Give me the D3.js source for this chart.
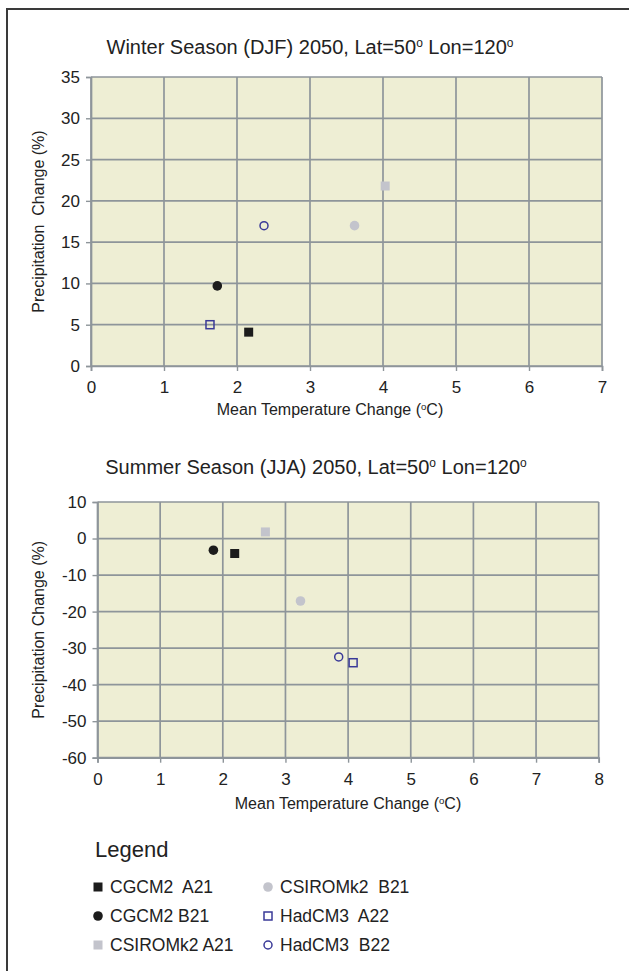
<!DOCTYPE html>
<html>
<head>
<meta charset="utf-8">
<script src="https://cdn.jsdelivr.net/npm/d3@7"></script>
<style>
  html, body { margin: 0; padding: 0; background: #fff; }
  svg { display: block; }
  text { font-family: "Liberation Sans", Arial, Helvetica, sans-serif; fill: #222; white-space: pre; }
</style>
</head>
<body>
<svg id="chart" width="629" height="971"></svg>
<script>
// Climate scenario results for the grid cell Lat=50°, Lon=120°, year 2050
const models = ["CGCM2  A21", "CGCM2 B21", "CSIROMk2 A21", "CSIROMk2  B21", "HadCM3  A22", "HadCM3  B22"];
const markerShapes = ["square", "circle", "square", "circle", "square", "circle"];
const markerFill = ["#1c1c1c", "#1c1c1c", "#c3c4cc", "#c3c4cc", "none", "none"];
const markerStroke = ["none", "none", "none", "none", "#3a3a98", "#3a3a98"];

// Winter (DJF)
const winterTemp = [2.16, 1.73, 4.03, 3.61, 1.63, 2.37];
const winterPrecip = [4.1, 9.7, 21.8, 17.0, 5.0, 17.0];
const winterXTicks = [0, 1, 2, 3, 4, 5, 6, 7];
const winterYTicks = [0, 5, 10, 15, 20, 25, 30, 35];

// Summer (JJA)
const summerTemp = [2.19, 1.85, 2.68, 3.24, 4.08, 3.85];
const summerPrecip = [-4.1, -3.2, 1.8, -17.1, -34.0, -32.4];
const summerXTicks = [0, 1, 2, 3, 4, 5, 6, 7, 8];
const summerYTicks = [-60, -50, -40, -30, -20, -10, 0, 10];

const svg = d3.select("#chart");
const gridColor = "#8e959a";

// Outer frame (left and top edges)
svg.append("path")
  .attr("d", "M7,971 V9 H629")
  .attr("fill", "none")
  .attr("stroke", "#3a3a3a")
  .attr("stroke-width", 2);

function titleText(sel, x, y, parts, size) {
  const t = sel.append("text").attr("x", x).attr("y", y)
    .attr("text-anchor", "middle").style("font-size", size + "px");
  parts.forEach(p => {
    const ts = t.append("tspan").text(p.t);
    if (p.sup) ts.attr("baseline-shift", "super").style("font-size", (size * 0.6) + "px");
  });
  return t;
}

function drawPanel(cfg) {
  const x = d3.scaleLinear().domain(d3.extent(cfg.xTicks)).range([cfg.left, cfg.right]);
  const y = d3.scaleLinear().domain(d3.extent(cfg.yTicks)).range([cfg.bottom, cfg.top]);
  const g = svg.append("g");

  g.append("rect")
    .attr("x", cfg.left).attr("y", cfg.top)
    .attr("width", cfg.right - cfg.left).attr("height", cfg.bottom - cfg.top)
    .attr("fill", "#eeeed4");

  // Grid lines
  g.selectAll(".vg").data(cfg.xTicks).join("line")
    .attr("x1", d => x(d)).attr("x2", d => x(d))
    .attr("y1", cfg.top).attr("y2", cfg.bottom)
    .attr("stroke", gridColor).attr("stroke-width", 1.7);
  g.selectAll(".hg").data(cfg.yTicks).join("line")
    .attr("y1", d => y(d)).attr("y2", d => y(d))
    .attr("x1", cfg.left).attr("x2", cfg.right)
    .attr("stroke", gridColor).attr("stroke-width", 1.7);

  // Axes with outward ticks
  const xAxis = g.append("g").attr("transform", `translate(0,${cfg.bottom})`)
    .call(d3.axisBottom(x).tickValues(cfg.xTicks).tickSize(5).tickPadding(10).tickFormat(d => String(d)));
  const yAxis = g.append("g").attr("transform", `translate(${cfg.left},0)`)
    .call(d3.axisLeft(y).tickValues(cfg.yTicks).tickSize(5).tickPadding(6).tickFormat(d => String(d)));
  [xAxis, yAxis].forEach(a => {
    a.attr("font-size", null).attr("font-family", null);
    a.select(".domain").attr("stroke", gridColor).attr("stroke-width", 1.7);
    a.selectAll(".tick line").attr("stroke", gridColor).attr("stroke-width", 1.4);
    a.selectAll(".tick text").style("font-size", "17px").attr("fill", "#222");
  });

  // Data markers
  const pts = models.map((m, i) => ({ i, tx: cfg.temp[i], p: cfg.precip[i] }));
  g.selectAll(".pt").data(pts).join(d => d.append(i => {
      const shape = markerShapes[i.i];
      return document.createElementNS("http://www.w3.org/2000/svg", shape === "square" ? "rect" : "circle");
    }))
    .each(function (d) {
      const el = d3.select(this);
      const open = markerFill[d.i] === "none";
      if (markerShapes[d.i] === "square") {
        const s = open ? 8 : 9;
        el.attr("x", x(d.tx) - s / 2).attr("y", y(d.p) - s / 2).attr("width", s).attr("height", s);
      } else {
        el.attr("cx", x(d.tx)).attr("cy", y(d.p)).attr("r", open ? 4 : 4.8);
      }
      el.attr("fill", markerFill[d.i]).attr("stroke", markerStroke[d.i]).attr("stroke-width", open ? 1.5 : 0);
    });

  // Titles
  titleText(svg, cfg.titleX, cfg.titleY, cfg.title, 20);
  titleText(svg, cfg.xLabelX, cfg.xLabelY,
    [{ t: "Mean Temperature Change (" }, { t: "o", sup: true }, { t: "C)" }], 16);
  svg.append("text")
    .attr("transform", `translate(${cfg.yLabelX},${(cfg.top + cfg.bottom) / 2}) rotate(-90)`)
    .attr("text-anchor", "middle").style("font-size", "16px")
    .text(cfg.yLabel);
}

drawPanel({
  temp: winterTemp, precip: winterPrecip, xTicks: winterXTicks, yTicks: winterYTicks,
  left: 91, right: 602, top: 77, bottom: 366,
  title: [{ t: "Winter Season (DJF) 2050, Lat=50" }, { t: "o", sup: true }, { t: " Lon=120" }, { t: "o", sup: true }],
  titleX: 310, titleY: 54,
  xLabelX: 330, xLabelY: 415,
  yLabel: "Precipitation  Change (%)", yLabelX: 44
});

drawPanel({
  temp: summerTemp, precip: summerPrecip, xTicks: summerXTicks, yTicks: summerYTicks,
  left: 97.5, right: 598.7, top: 502, bottom: 757.7,
  title: [{ t: "Summer Season (JJA) 2050, Lat=50" }, { t: "o", sup: true }, { t: " Lon=120" }, { t: "o", sup: true }],
  titleX: 316, titleY: 474,
  xLabelX: 348, xLabelY: 809,
  yLabel: "Precipitation Change (%)", yLabelX: 44
});

// Legend
svg.append("text").attr("x", 95).attr("y", 857).style("font-size", "22px").text("Legend");
const legendPos = [[0, 0], [0, 1], [0, 2], [1, 0], [1, 1], [1, 2]];
const colX = [98, 268], rowY = [887, 916, 945];
models.forEach((m, i) => {
  const cx = colX[legendPos[i][0]], cy = rowY[legendPos[i][1]];
  const open = markerFill[i] === "none";
  if (markerShapes[i] === "square") {
    const s = open ? 8 : 9;
    svg.append("rect").attr("x", cx - s / 2).attr("y", cy - s / 2).attr("width", s).attr("height", s)
      .attr("fill", markerFill[i]).attr("stroke", markerStroke[i]).attr("stroke-width", open ? 1.5 : 0);
  } else {
    svg.append("circle").attr("cx", cx).attr("cy", cy).attr("r", open ? 4 : 4.8)
      .attr("fill", markerFill[i]).attr("stroke", markerStroke[i]).attr("stroke-width", open ? 1.5 : 0);
  }
  svg.append("text").attr("x", cx + 12).attr("y", cy + 6).style("font-size", "17.5px").text(m);
});
</script>
</body>
</html>
